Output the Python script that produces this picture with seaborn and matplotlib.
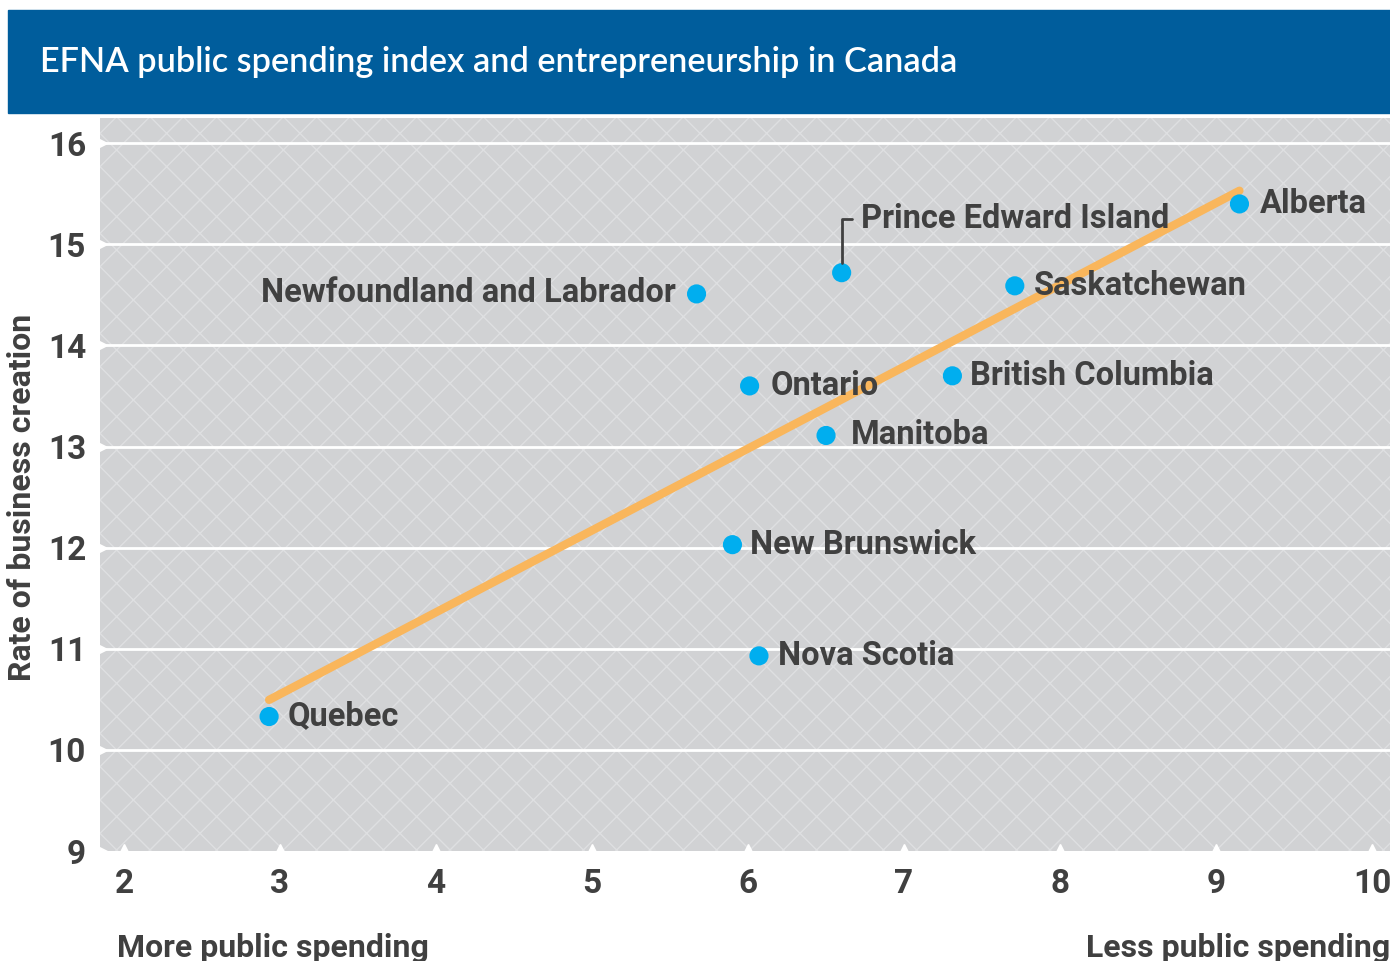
import numpy as np
import pandas as pd
import matplotlib
matplotlib.use("Agg")
import matplotlib.pyplot as plt
import seaborn as sns
from matplotlib.patches import Rectangle

provinces = ["Quebec", "Newfoundland and Labrador", "Prince Edward Island", "Saskatchewan",
             "Alberta", "Ontario", "British Columbia", "Manitoba", "New Brunswick", "Nova Scotia"]
spending_index = [2.93, 5.67, 6.60, 7.71, 9.15, 6.01, 7.31, 6.50, 5.90, 6.07]
business_rate = [10.33, 14.51, 14.72, 14.59, 15.40, 13.60, 13.70, 13.11, 12.03, 10.93]
x_ticks = [2, 3, 4, 5, 6, 7, 8, 9, 10]
y_ticks = [9, 10, 11, 12, 13, 14, 15, 16]

df = pd.DataFrame({"province": provinces, "spending": spending_index, "rate": business_rate})

TEXT = "#404040"
BLUE = "#005d9c"
DOT = "#00aeef"
ORANGE = "#f9b65c"

sns.set_theme(style="white")
plt.rcParams["font.family"] = ["Roboto", "DejaVu Sans"]
plt.rcParams["hatch.linewidth"] = 1.0

fig = plt.figure(figsize=(13.9, 9.61), dpi=100)
ax = fig.add_axes([100 / 1390, 110 / 961, 1 - 100 / 1390, (851 - 118) / 961])

# header bar
fig.patches.append(Rectangle((8 / 1390, 1 - 113 / 961), 1 - 8 / 1390, 103 / 961,
                             transform=fig.transFigure, color=BLUE, zorder=0))
fig.text(40 / 1390, 1 - 62 / 961, "EFNA public spending index and entrepreneurship in Canada",
         color="white", fontsize=24.7, fontfamily=["Lato", "DejaVu Sans"], fontweight="semibold",
         va="center", ha="left")

# patterned background
ax.set_facecolor("#d1d2d4")
ax.add_patch(Rectangle((0, 0), 1, 1, transform=ax.transAxes, facecolor="#d1d2d4",
                       edgecolor="#dedfe1", hatch="x", linewidth=0, zorder=0))

for y in y_ticks[1:]:
    ax.axhline(y, color="white", linewidth=2, zorder=1)

sns.regplot(data=df, x="spending", y="rate", scatter=False, ci=None, truncate=True,
            line_kws={"color": ORANGE, "linewidth": 6, "solid_capstyle": "round", "zorder": 2}, ax=ax)
sns.scatterplot(data=df, x="spending", y="rate", color=DOT, s=190, edgecolor="none",
                zorder=3, ax=ax, legend=False)

xmin, xmax = 1.846, 10.115
ax.set_xlim(xmin, xmax)
ax.set_ylim(9, 16.25)

# notches at ticks
ax.plot([xmin] * len(y_ticks), y_ticks, marker=">", linestyle="none", color="white",
        markersize=10, clip_on=False, zorder=4)
ax.plot(x_ticks, [9] * len(x_ticks), marker="^", linestyle="none", color="white",
        markersize=10, clip_on=False, zorder=4)

LABEL_SIZE = 23.5
label_offsets = {
    "Quebec": (13, 0, "left"),
    "Newfoundland and Labrador": (-15, 1, "right"),
    "Saskatchewan": (14, 0, "left"),
    "Alberta": (15, 0, "left"),
    "Ontario": (15, 0, "left"),
    "British Columbia": (13, 0, "left"),
    "Manitoba": (18, 0, "left"),
    "New Brunswick": (13, 0, "left"),
    "Nova Scotia": (14, 0, "left"),
}
for name, xv, yv in zip(provinces, spending_index, business_rate):
    if name in label_offsets:
        dx, dy, ha = label_offsets[name]
        ax.annotate(name, (xv, yv), xytext=(dx, dy), textcoords="offset points",
                    ha=ha, va="center", fontsize=LABEL_SIZE, fontweight="bold", color=TEXT, zorder=5)

# Prince Edward Island with connector
pei = provinces.index("Prince Edward Island")
ax.annotate("Prince Edward Island", (spending_index[pei], business_rate[pei]),
            xytext=(14, 39), textcoords="offset points", ha="left", va="center",
            fontsize=LABEL_SIZE, fontweight="bold", color=TEXT, zorder=5,
            arrowprops=dict(arrowstyle="-", color=TEXT, linewidth=2,
                            connectionstyle="angle,angleA=0,angleB=90,rad=0",
                            shrinkA=4, shrinkB=7))

ax.set_xticks(x_ticks)
ax.set_yticks(y_ticks)
ax.tick_params(axis="both", length=0, labelsize=24, labelcolor=TEXT)
ax.tick_params(axis="x", pad=12)
ax.tick_params(axis="y", pad=10)
for lab in ax.get_xticklabels() + ax.get_yticklabels():
    lab.set_fontweight("bold")
ax.set_xlabel("")
ax.set_ylabel("")
for s in ax.spines.values():
    s.set_visible(False)

fig.text(22 / 1390, 1 - 497 / 961, "Rate of business creation", rotation=90, ha="center",
         va="center", fontsize=23, fontweight="bold", color=TEXT)
fig.text(117 / 1390, 1 - 957 / 961, "More public spending", ha="left", va="baseline",
         fontsize=23, fontweight="bold", color=TEXT)
fig.text(1.0, 1 - 957 / 961, "Less public spending", ha="right", va="baseline",
         fontsize=23, fontweight="bold", color=TEXT)

fig.savefig("out.png", dpi=100, facecolor="white")
